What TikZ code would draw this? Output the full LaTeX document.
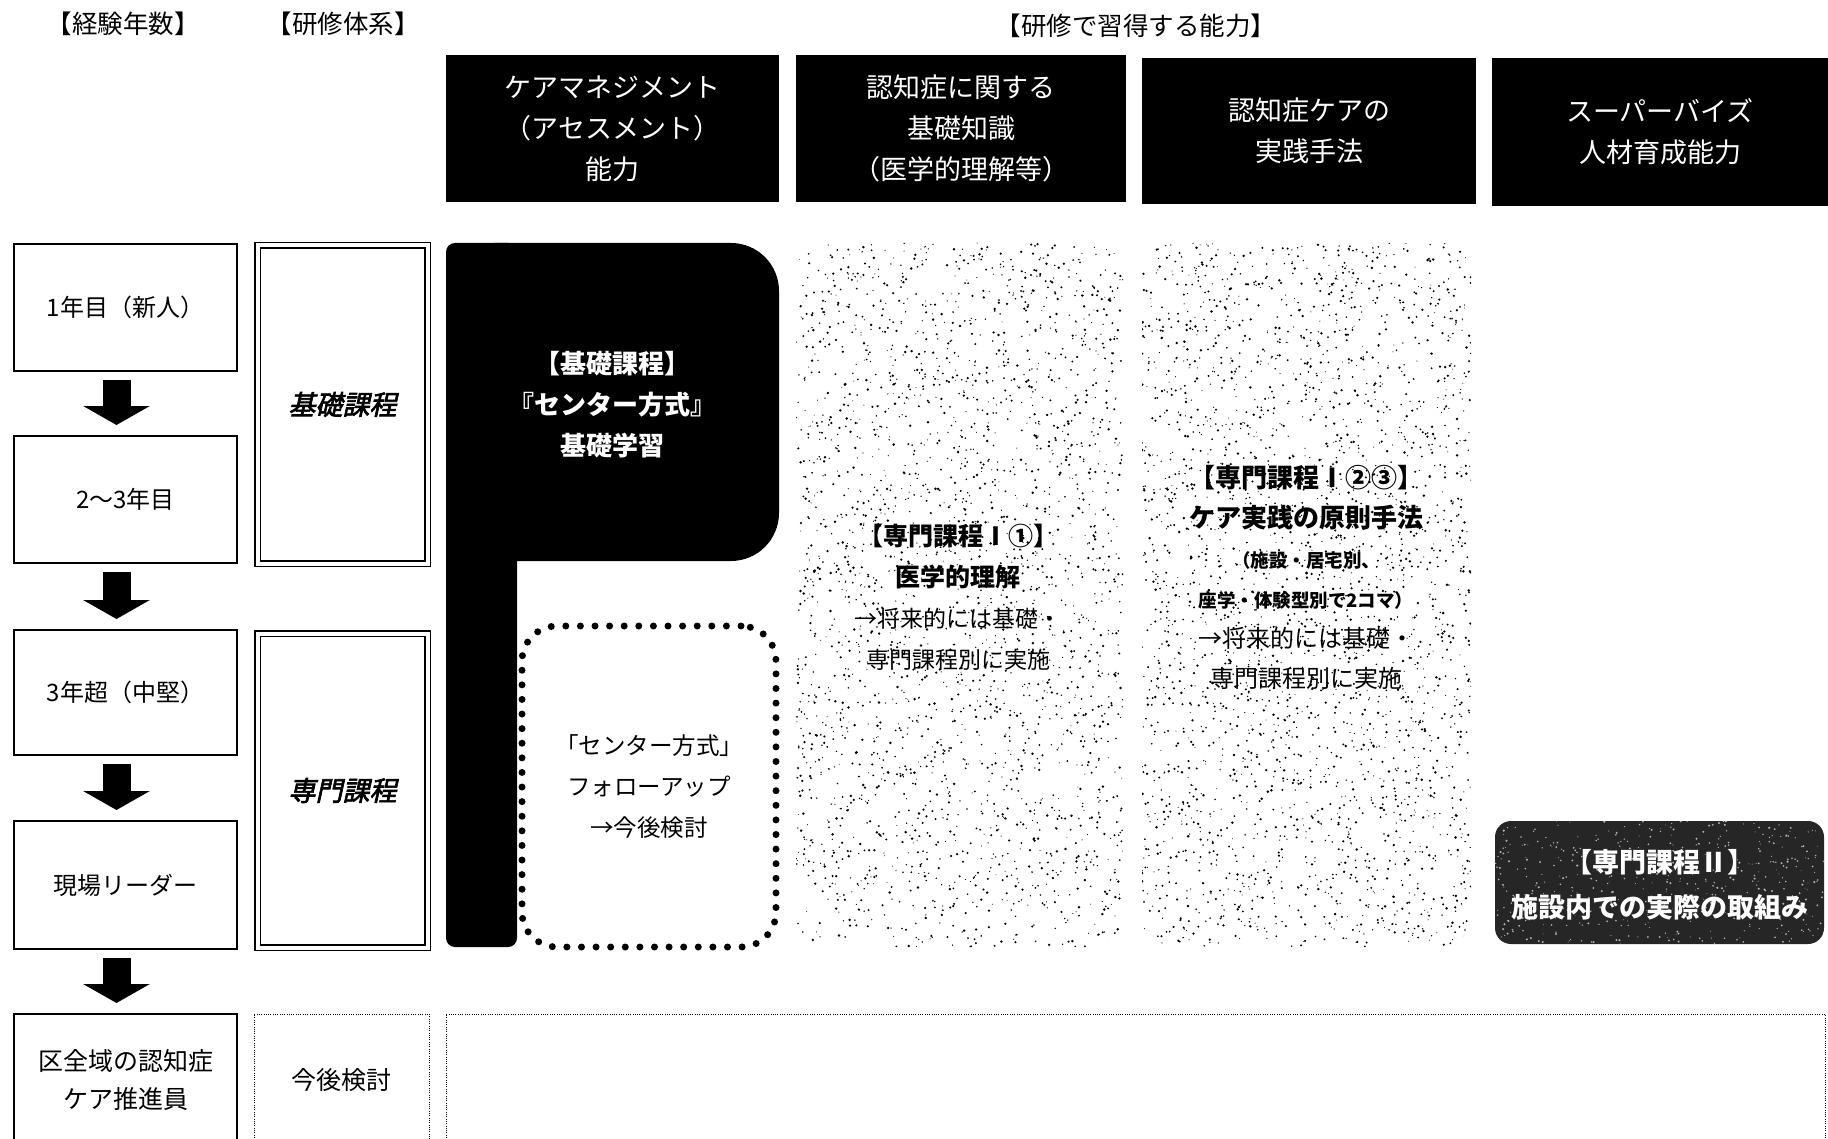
\documentclass[tikz,border=0pt]{standalone}
\usepackage{fontspec}
\setmainfont{Noto Sans CJK JP}
\newfontfamily\jpsl{Noto Sans CJK JP}[FakeSlant=0.22,FakeBold=2.5]
\usetikzlibrary{arrows.meta}
\begin{document}
\begin{tikzpicture}[x=1pt,y=-1pt,
  ttl/.style={font=\fontsize{25.5}{30}\selectfont, inner sep=0},
  hdrbox/.style={fill=black, text=white, inner sep=0, minimum height=147pt, align=center, font=\fontsize{27}{41}\selectfont},
  yearbox/.style={draw, line width=2pt, minimum width=223pt, inner sep=0, align=center, font=\fontsize{24}{38}\selectfont},
  coursebox/.style={draw, double=white, double distance=4pt, line width=1.3pt, minimum width=170pt, inner sep=0, font=\jpsl\fontsize{27}{32}\selectfont},
  dotbox/.style={draw, line width=1pt, dash pattern=on 1pt off 1.3pt, inner sep=0, align=center},
  followbox/.style={draw, line width=7pt, line cap=round, dash pattern=on 0pt off 14.6pt, rounded corners=35pt, inner sep=0, align=center, font=\fontsize{23.5}{41}\selectfont},
  ptext/.style={text=white, align=center, inner sep=0, font=\bfseries\fontsize{26}{41}\selectfont},
  stext/.style={align=center, inner sep=0, font=\fontsize{23}{41}\selectfont},
  blockarr/.style={line width=28pt, -{Triangle[width=66pt,length=19pt]}, shorten <=8pt, shorten >=10pt}
]
\useasboundingbox (0,0) rectangle (1828,1139);
\clip (0,0) rectangle (1828,1139);

% titles
\node[ttl] (t1) at (123,24) {【経験年数】};
\node[ttl] (t2) at (343,24) {【研修体系】};
\node[ttl] (t3) at (1136,26) {【研修で習得する能力】};

% header boxes
\node[hdrbox, minimum width=333pt] (h1) at (612.5,128.5) {ケアマネジメント\\（アセスメント）\\能力};
\node[hdrbox, minimum width=330pt] (h2) at (961,128.5) {認知症に関する\\基礎知識\\（医学的理解等）};
\node[hdrbox, minimum width=334pt, minimum height=146pt] (h3) at (1309,131) {認知症ケアの\\実践手法};
\node[hdrbox, minimum width=336pt, minimum height=148pt] (h4) at (1660,132) {スーパーバイズ\\人材育成能力};

% year boxes
\node[yearbox, minimum height=127pt] (y1) at (125.5,307.5) {1年目（新人）};
\node[yearbox, minimum height=127pt] (y2) at (125.5,499.5) {2〜3年目};
\node[yearbox, minimum height=125pt] (y3) at (125.5,692.5) {3年超（中堅）};
\node[yearbox, minimum height=128pt] (y4) at (125.5,885) {現場リーダー};
\node[yearbox, minimum height=132pt, font=\fontsize{25}{38}\selectfont] (y5) at (125.5,1080) {区全域の認知症\\ケア推進員};

\draw[blockarr] ([xshift=-9pt]y1.south) -- ([xshift=-9pt]y2.north);
\draw[blockarr] ([xshift=-9pt]y2.south) -- ([xshift=-9pt]y3.north);
\draw[blockarr] ([xshift=-9pt]y3.south) -- ([xshift=-9pt]y4.north);
\draw[blockarr] ([xshift=-9pt]y4.south) -- ([xshift=-9pt]y5.north);

% course boxes
\node[coursebox, minimum height=318pt] (c1) at (342.5,404.5) {基礎課程};
\node[coursebox, minimum height=314pt] (c2) at (342.5,790.5) {専門課程};
\node[dotbox, minimum width=175pt, minimum height=132pt, font=\fontsize{25}{30}\selectfont] (c3) at (341.5,1080) {今後検討};

% bottom wide dotted box
\node[dotbox, minimum width=1379pt, minimum height=132pt] (wide) at (1135.5,1080) {};

% P-shaped black block
\fill[rounded corners=48pt] (446,243) rectangle (779,561);
\fill[rounded corners=9pt] (446,243) rectangle (517,947);
\node[ptext] (kiso) at (612,405) {【基礎課程】\\『センター方式』\\基礎学習};

% follow-up dotted box
\node[followbox, minimum width=254pt, minimum height=321pt] (fu) at (649,786.5) {「センター方式」\\フォローアップ\\→今後検討};

% stippled boxes
\pgfmathsetseed{11}
\begin{scope}
  \clip[rounded corners=30pt] (796,243) rectangle (1123,947);
  \foreach \i in {1,...,2600}{
    \pgfmathsetmacro{\rx}{796+rnd*327}
    \pgfmathsetmacro{\ry}{243+rnd*704}
    \pgfmathsetmacro{\rr}{0.5+rnd*0.9}
    \fill (\rx,\ry) circle[radius=\rr pt];
  }
\end{scope}
\begin{scope}
  \clip[rounded corners=30pt] (1142,243) rectangle (1471,947);
  \foreach \i in {1,...,2800}{
    \pgfmathsetmacro{\rx}{1142+rnd*329}
    \pgfmathsetmacro{\ry}{243+rnd*704}
    \pgfmathsetmacro{\rr}{0.5+rnd*0.9}
    \fill (\rx,\ry) circle[radius=\rr pt];
  }
\end{scope}
\node[stext] (s1a) at (958,597) {{\bfseries\fontsize{25}{41}\selectfont 【専門課程Ⅰ①】}\\{\bfseries\fontsize{25}{41}\selectfont 医学的理解}\\→将来的には基礎・\\専門課程別に実施};
\node[stext, font=\fontsize{24}{40}\selectfont] (s1b) at (1306,577) {{\bfseries\fontsize{26}{40}\selectfont 【専門課程Ⅰ②③】}\\{\bfseries\fontsize{26}{40}\selectfont ケア実践の原則手法}\\{\bfseries\fontsize{18.5}{36}\selectfont （施設・居宅別、}\\{\bfseries\fontsize{18.5}{36}\selectfont 座学・体験型別で2コマ）}\\→将来的には基礎・\\専門課程別に実施};

% dark stippled box
\fill[black!85, rounded corners=16pt] (1495,821) rectangle (1824,944);
\begin{scope}
  \clip[rounded corners=16pt] (1495,821) rectangle (1824,944);
  \foreach \i in {1,...,500}{
    \pgfmathsetmacro{\rx}{1495+rnd*329}
    \pgfmathsetmacro{\ry}{821+rnd*123}
    \pgfmathsetmacro{\rr}{0.4+rnd*0.8}
    \fill[white!70!black] (\rx,\ry) circle[radius=\rr pt];
  }
\end{scope}
\node[ptext, font=\bfseries\fontsize{27}{45}\selectfont] (s2) at (1660,885) {【専門課程Ⅱ】\\施設内での実際の取組み};
\end{tikzpicture}
\end{document}
